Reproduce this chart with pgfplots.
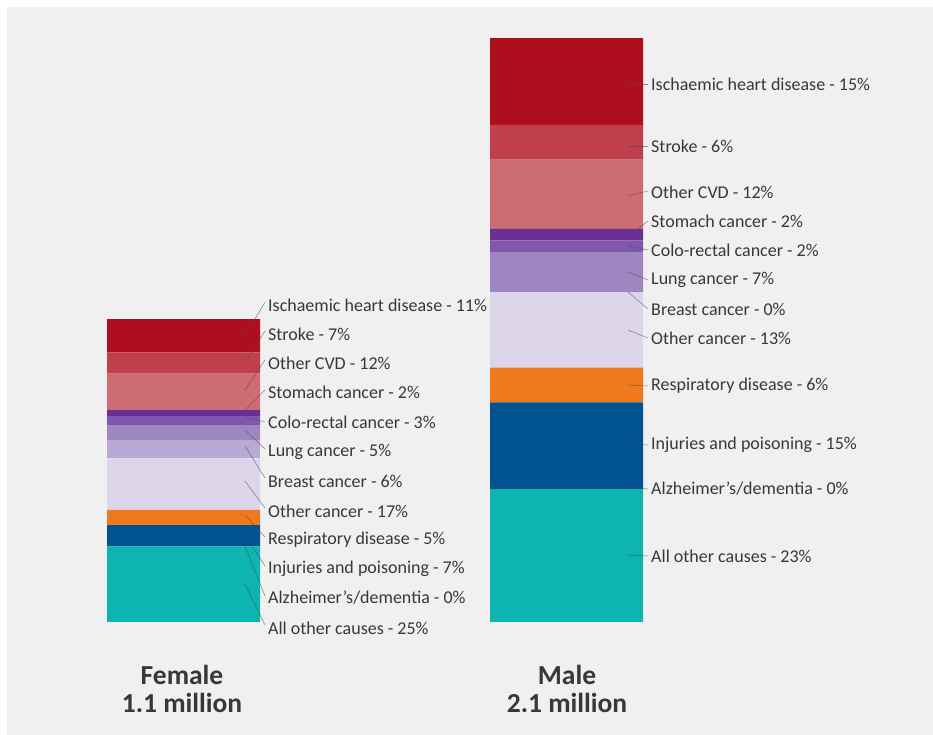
\documentclass[border=0pt]{standalone}
\usepackage{pgfplots}
\usepackage{pgfplotstable}
\pgfplotsset{compat=1.18}
\usepackage{fontspec}
\setmainfont{Carlito}
\definecolor{bg}{HTML}{F0F0F0}
\definecolor{cihd}{HTML}{AE0F1F}
\definecolor{cstroke}{HTML}{C03F4C}
\definecolor{cocvd}{HTML}{CD6C75}
\definecolor{cstom}{HTML}{6A2F93}
\definecolor{ccolo}{HTML}{8157AD}
\definecolor{clung}{HTML}{9E86C1}
\definecolor{cbreast}{HTML}{BBA9D5}
\definecolor{cothc}{HTML}{DDD5EA}
\definecolor{cresp}{HTML}{EF7A1E}
\definecolor{cinj}{HTML}{015291}
\definecolor{calz}{HTML}{0E4C5A}
\definecolor{call}{HTML}{0DB4B0}
\definecolor{txt}{HTML}{383838}
% deaths in thousands (female total 1.1 million, male 2.1 million)
\pgfplotstableread{
x     allother alz inj resp othc breast lung colo stom ocvd stroke ihd
183.5 275      0   77  55   187  66     55   33   22   132  77     121
566.5 483      0   315 126  273  0      147  42   42   252  126    315
}\deaths
\begin{document}
\begin{tikzpicture}
\begin{scope}[x=1pt,y=-1pt]
\fill[white] (0,0) rectangle (933,735);
\fill[bg] (7,7) rectangle (933,735);
\end{scope}
\begin{axis}[
  at={(0pt,0pt)}, anchor=north west,
  width=933pt, height=735pt, scale only axis,
  hide axis,
  xmin=0, xmax=933,
  ymin=-410.5, ymax=2259.4,
  ybar stacked, bar width=153,
  clip=false,
]
\addplot[fill=call, draw=none] table[x=x,y=allother]{\deaths};
\addplot[fill=calz, draw=calz, line width=1pt] table[x=x,y=alz]{\deaths};
\addplot[fill=cinj, draw=none] table[x=x,y=inj]{\deaths};
\addplot[fill=cresp, draw=none] table[x=x,y=resp]{\deaths};
\addplot[fill=cothc, draw=none] table[x=x,y=othc]{\deaths};
\addplot[fill=cbreast, draw=none] table[x=x,y=breast]{\deaths};
\addplot[fill=clung, draw=none] table[x=x,y=lung]{\deaths};
\addplot[fill=ccolo, draw=none] table[x=x,y=colo]{\deaths};
\addplot[fill=cstom, draw=none] table[x=x,y=stom]{\deaths};
\addplot[fill=cocvd, draw=none] table[x=x,y=ocvd]{\deaths};
\addplot[fill=cstroke, draw=none] table[x=x,y=stroke]{\deaths};
\addplot[fill=cihd, draw=none] table[x=x,y=ihd]{\deaths};
\end{axis}
\begin{scope}[x=1pt,y=-1pt]
\tikzset{lab/.style={anchor=west, inner sep=0pt, text=txt, font=\fontsize{18}{21}\selectfont},
         ld/.style={draw=black!70, opacity=0.6, line width=0.6pt},
         ttl/.style={align=center, text=txt, font=\bfseries\fontsize{27.5}{28}\selectfont}}
% female labels
\draw[ld] (245,336) -- (265,302);
\draw[ld] (245,363) -- (265,331);
\draw[ld] (245,390) -- (265,360);
\draw[ld] (245,410) -- (265,390);
\draw[ld] (245,417) -- (265,422);
\draw[ld] (245,430) -- (265,449);
\draw[ld] (245,446) -- (265,478);
\draw[ld] (245,481) -- (265,508);
\draw[ld] (245,515) -- (265,537);
\draw[ld] (245,535) -- (265,566);
\draw[ld] (245,546) -- (265,596);
\draw[ld] (245,584) -- (265,625);
\node[lab] at (268,305) {Ischaemic heart disease - 11\%};
\node[lab] at (268,334) {Stroke - 7\%};
\node[lab] at (268,363) {Other CVD - 12\%};
\node[lab] at (268,392) {Stomach cancer - 2\%};
\node[lab] at (268,422) {Colo-rectal cancer - 3\%};
\node[lab] at (268,452) {Lung cancer - 5\%};
\node[lab] at (268,481) {Breast cancer - 6\%};
\node[lab] at (268,511) {Other cancer - 17\%};
\node[lab] at (268,540) {Respiratory disease - 5\%};
\node[lab] at (268,569) {Injuries and poisoning - 7\%};
\node[lab] at (268,598) {Alzheimer\symbol{39}s/dementia - 0\%};
\node[lab] at (268,628) {All other causes - 25\%};
% male labels
\draw[ld] (628,84) -- (648,84);
\draw[ld] (628,146) -- (648,146);
\draw[ld] (628,196) -- (648,191);
\draw[ld] (628,236) -- (648,221);
\draw[ld] (628,246) -- (648,250);
\draw[ld] (628,272) -- (648,280);
\draw[ld] (628,292) -- (648,309);
\draw[ld] (628,330) -- (648,338);
\draw[ld] (628,385) -- (648,386);
\draw[ld] (628,444) -- (648,445);
\draw[ld] (628,487) -- (648,489);
\draw[ld] (628,555) -- (648,556);
\node[lab] at (651,84) {Ischaemic heart disease - 15\%};
\node[lab] at (651,146) {Stroke - 6\%};
\node[lab] at (651,192) {Other CVD - 12\%};
\node[lab] at (651,221) {Stomach cancer - 2\%};
\node[lab] at (651,250) {Colo-rectal cancer - 2\%};
\node[lab] at (651,280) {Lung cancer - 7\%};
\node[lab] at (651,309) {Breast cancer - 0\%};
\node[lab] at (651,338) {Other cancer - 13\%};
\node[lab] at (651,386) {Respiratory disease - 6\%};
\node[lab] at (651,445) {Injuries and poisoning - 15\%};
\node[lab] at (651,489) {Alzheimer\symbol{39}s/dementia - 0\%};
\node[lab] at (651,556) {All other causes - 23\%};
% titles
\node[ttl] at (182,689) {Female\\1.1 million};
\node[ttl] at (567,689) {Male\\2.1 million};
\end{scope}
\end{tikzpicture}
\end{document}
